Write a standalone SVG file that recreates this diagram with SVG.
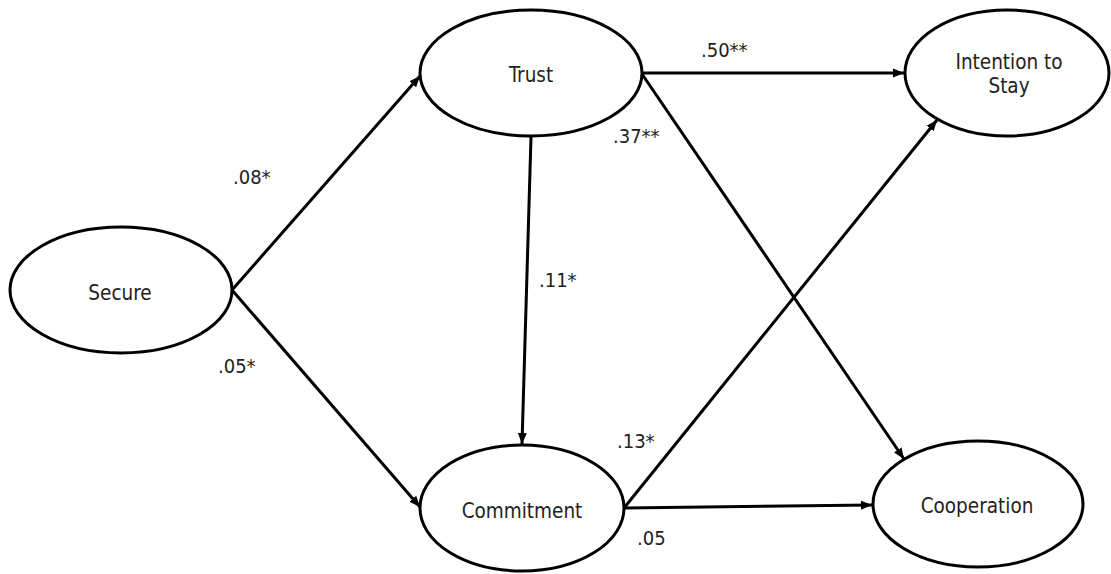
<svg xmlns="http://www.w3.org/2000/svg" width="1111" height="574" viewBox="0 0 1111 574">
<style>
.node ellipse{fill:#fff;stroke:#000;stroke-width:3}
.node text{font-family:"DejaVu Sans Condensed","DejaVu Sans",sans-serif;font-stretch:condensed;font-size:20.5px;fill:#222;text-anchor:middle}
.lbl{font-family:"DejaVu Sans Condensed","DejaVu Sans",sans-serif;font-stretch:condensed;font-size:20px;fill:#222}
#edges line{stroke:#000;stroke-width:3;fill:none;marker-end:url(#arr)}
</style>
<defs>
<marker id="arr" markerUnits="userSpaceOnUse" markerWidth="12" markerHeight="10" refX="11" refY="5" orient="auto">
<path d="M0,0.5 L11,5 L0,9.5 z" fill="#000"/>
</marker>
</defs>
<rect width="1111" height="574" fill="#fff"/>
<g id="edges">
<line x1="232" y1="290" x2="420" y2="76"/>
<line x1="232" y1="290" x2="420" y2="507"/>
<line x1="531" y1="137" x2="522" y2="444"/>
<line x1="642" y1="73" x2="904" y2="73"/>
<line x1="642" y1="74" x2="904" y2="459"/>
<line x1="624" y1="508" x2="937" y2="120"/>
<line x1="624" y1="508" x2="872" y2="505"/>
</g>
<g id="secure" class="node"><ellipse cx="121" cy="290" rx="111" ry="63"/><text x="120" y="300">Secure</text></g>
<g id="trust" class="node"><ellipse cx="531" cy="73" rx="111" ry="63"/><text x="531" y="82">Trust</text></g>
<g id="intention" class="node"><ellipse cx="1007" cy="73" rx="102" ry="63"/><text x="1009" y="69">Intention to</text><text x="1009" y="93">Stay</text></g>
<g id="commitment" class="node"><ellipse cx="522" cy="508" rx="102" ry="63"/><text x="522" y="518">Commitment</text></g>
<g id="cooperation" class="node"><ellipse cx="978" cy="504" rx="105" ry="63"/><text x="977" y="513">Cooperation</text></g>
<g id="labels">
<text class="lbl" x="233" y="184">.08*</text>
<text class="lbl" x="218" y="373">.05*</text>
<text class="lbl" x="539" y="287">.11*</text>
<text class="lbl" x="613" y="143">.37**</text>
<text class="lbl" x="701" y="57">.50**</text>
<text class="lbl" x="617" y="448">.13*</text>
<text class="lbl" x="637" y="545">.05</text>
</g>
</svg>
